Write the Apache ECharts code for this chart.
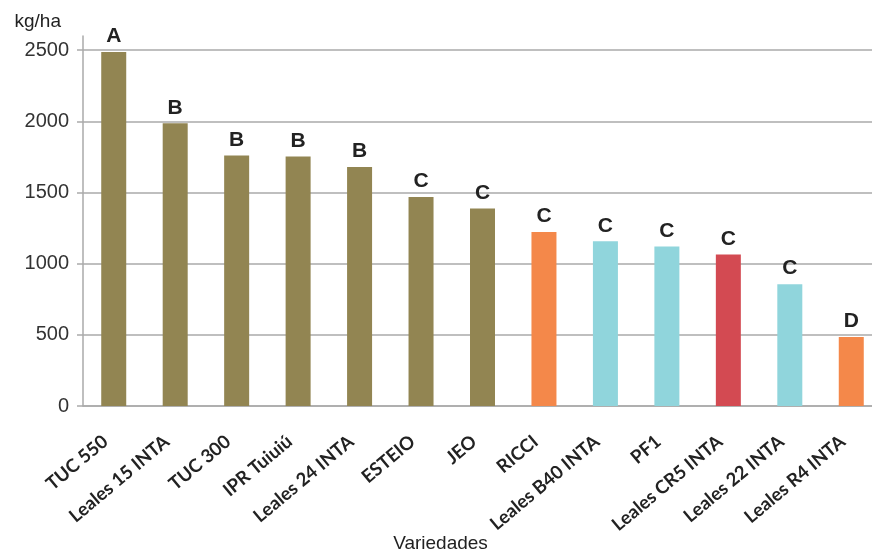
<!DOCTYPE html>
<html>
<head>
<meta charset="utf-8">
<script src="https://cdn.jsdelivr.net/npm/echarts@6/dist/echarts.min.js"></script>
<style>html,body{margin:0;padding:0;background:#fff}#c{width:872px;height:552px}</style>
</head>
<body>
<div id="c"></div>
<script>
const categories = ['TUC 550','Leales 15 INTA','TUC 300','IPR Tuiuiú','Leales 24 INTA','ESTEIO','JEO','RICCI','Leales B40 INTA','PF1','Leales CR5 INTA','Leales 22 INTA','Leales R4 INTA'];
const values = [2488, 1987, 1760, 1753, 1680, 1469, 1388, 1222, 1157, 1121, 1065, 856, 484];
const letters = ['A','B','B','B','B','C','C','C','C','C','C','C','D'];
const colorGroup = ['olive','olive','olive','olive','olive','olive','olive','orange','cyan','cyan','red','cyan','orange'];
const yTicks = [0, 500, 1000, 1500, 2000, 2500];
const yMax = 2600;

const palette = {olive:'#928552', orange:'#F4884A', cyan:'#90D5DC', red:'#D34A52'};

const chart = echarts.init(document.getElementById('c'), null, {renderer:'canvas'});
chart.setOption({
  animation:false,
  backgroundColor:'#fff',
  grid:{left:83, width:799, top:36, bottom:146, containLabel:false, outerBoundsMode:'none'},
  xAxis:{
    type:'category',
    data:categories,
    name:'Variedades',
    nameLocation:'middle',
    nameGap:128,
    nameMoveOverlap:false,
    nameTextStyle:{fontFamily:'Liberation Sans', fontSize:19, color:'#222', padding:[0,84,0,0]},
    axisLine:{lineStyle:{color:'#aaaaaa', width:1.5}},
    axisTick:{length:6, lineStyle:{color:'#aaaaaa', width:1.5}},
    axisLabel:{rotate:40, interval:0, fontFamily:'Lato', fontWeight:'bold', fontSize:18.5, color:'#222', margin:26,
      padding:[0,11,0,0]}
  },
  yAxis:{
    type:'value',
    min:0, max:yMax, interval:500,
    name:'kg/ha',
    nameLocation:'end',
    nameGap:5,
    nameTextStyle:{fontFamily:'Liberation Sans', fontSize:19, color:'#222', align:'right', padding:[0,22,0,0]},
    axisLine:{show:true, lineStyle:{color:'#aaaaaa', width:1.5}},
    axisTick:{show:true, length:6, lineStyle:{color:'#aaaaaa', width:1.5}, customValues:yTicks},
    splitLine:{show:true, lineStyle:{color:'#aaaaaa', width:1.5}},
    axisLabel:{fontFamily:'Liberation Sans', fontSize:20, color:'#333', margin:14, customValues:yTicks,
      formatter:v=>String(v)}
  },
  series:[{
    type:'bar',
    barWidth:25,
    data:values.map((v,i)=>({value:v, itemStyle:{color:palette[colorGroup[i]]}})),
    label:{show:true, position:'top', distance:5, fontFamily:'Liberation Sans', fontWeight:'bold', fontSize:21, color:'#222',
      formatter:p=>letters[p.dataIndex]}
  }]
});
</script>
</body>
</html>
